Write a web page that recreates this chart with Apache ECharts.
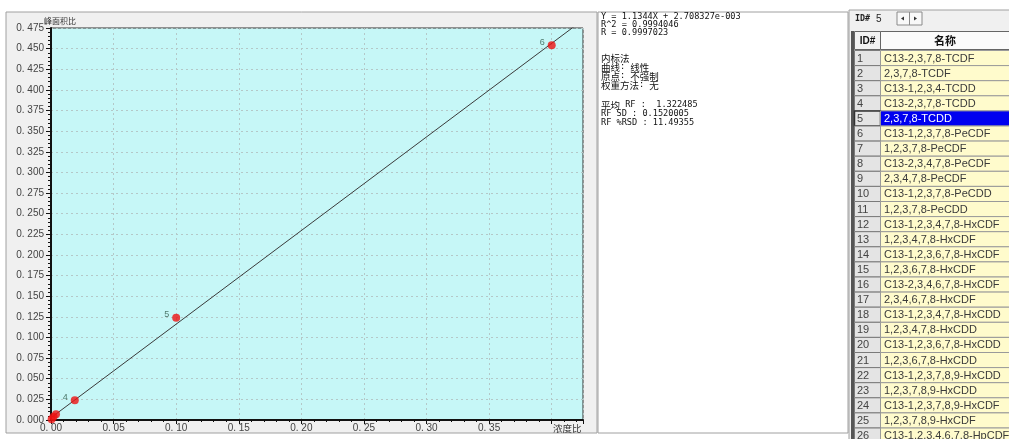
<!DOCTYPE html>
<html>
<head>
<meta charset="utf-8">
<script src="https://cdn.jsdelivr.net/npm/echarts@6/dist/echarts.min.js"></script>
<style>
html,body{margin:0;padding:0;background:#fff;}
#main{width:1009px;height:439px;}
</style>
</head>
<body>
<div id="main"></div>
<script>
// 标准点：浓度比 / 峰面积比
var ptIds = ['1', '2', '3', '4', '5', '6'];
var concRatio = [0.0005, 0.002, 0.004, 0.019, 0.100, 0.400];
var areaRatio = [0.001, 0.004, 0.007, 0.024, 0.124, 0.454];
var ptLabels = ['', '', '', '4', '5', '6'];

// 回归方程 Y = aX + b
var slope = 1.1344;
var intercept = 2.708327e-3;
var xMax = 0.425;
var yMax = 0.475;
var xLabelMax = 0.35;

// 右侧文字 [文字, y]
var statLines = [
  ['Y = 1.1344X + 2.708327e-003', 17],
  ['R^2 = 0.9994046', 25],
  ['R = 0.9997023', 33],
  ['内标法', 58],
  ['曲线: 线性', 67],
  ['原点: 不强制', 76],
  ['权重方法: 无', 85],
  ['平均 RF :  1.322485', 105],
  ['RF SD : 0.1520005', 114],
  ['RF %RSD : 11.49355', 123]
];

// 化合物列表
var compNames = [
  'C13-2,3,7,8-TCDF', '2,3,7,8-TCDF', 'C13-1,2,3,4-TCDD', 'C13-2,3,7,8-TCDD',
  '2,3,7,8-TCDD', 'C13-1,2,3,7,8-PeCDF', '1,2,3,7,8-PeCDF', 'C13-2,3,4,7,8-PeCDF',
  '2,3,4,7,8-PeCDF', 'C13-1,2,3,7,8-PeCDD', '1,2,3,7,8-PeCDD', 'C13-1,2,3,4,7,8-HxCDF',
  '1,2,3,4,7,8-HxCDF', 'C13-1,2,3,6,7,8-HxCDF', '1,2,3,6,7,8-HxCDF', 'C13-2,3,4,6,7,8-HxCDF',
  '2,3,4,6,7,8-HxCDF', 'C13-1,2,3,4,7,8-HxCDD', '1,2,3,4,7,8-HxCDD', 'C13-1,2,3,6,7,8-HxCDD',
  '1,2,3,6,7,8-HxCDD', 'C13-1,2,3,7,8,9-HxCDD', '1,2,3,7,8,9-HxCDD', 'C13-1,2,3,7,8,9-HxCDF',
  '1,2,3,7,8,9-HxCDF', 'C13-1,2,3,4,6,7,8-HpCDF'
];
var curId = 5;

var monoFont = '"DejaVu Sans Mono","Noto Sans CJK SC",monospace';
var tickFont = '"Liberation Sans",Arial,sans-serif';

//拼散点数据
var pts = [];
for (var i = 0; i < ptIds.length; i++) {
  pts.push({value: [concRatio[i], areaRatio[i]], name: ptIds[i]});
}
//回归线两端
var fitLine = [[0, intercept], [xMax, slope * xMax + intercept]];

var g = [];
//左边图框
g.push({type: 'rect', z: -10, shape: {x: 6, y: 12, width: 591, height: 421}, style: {fill: '#f0f0f0', stroke: '#a0a0a0', lineWidth: 1}});
g.push({type: 'text', x: 44, y: 21, style: {text: '峰面积比', font: '8px "Noto Sans CJK SC"', fill: '#333', textVerticalAlign: 'middle'}});
g.push({type: 'text', x: 553, y: 428, style: {text: '浓度比', font: '9.5px "Noto Sans CJK SC"', fill: '#333', textVerticalAlign: 'middle'}});

//中间文字框
g.push({type: 'rect', z: -10, shape: {x: 598, y: 12, width: 250, height: 421}, style: {fill: '#fff', stroke: '#a0a0a0', lineWidth: 1}});
statLines.forEach(function (s) {
  // 中文字稍大一点
  var txt = s[0].replace(/([\u4e00-\u9fff]+)/g, '{c|$1}');
  g.push({type: 'text', x: 601, y: s[1],
    style: {
      text: txt, font: '8.6px ' + monoFont, fill: '#111', textVerticalAlign: 'middle',
      rich: {c: {fontSize: 9.5, fontFamily: '"Noto Sans CJK SC"', fill: '#111'}}
    }});
});

//右边表格
g.push({type: 'rect', z: -10, shape: {x: 849, y: 10, width: 162, height: 432}, style: {fill: '#f0f0f0', stroke: '#a0a0a0', lineWidth: 1}});
g.push({type: 'text', x: 855, y: 19, style: {text: 'ID#', font: 'bold 8.4px ' + monoFont, fill: '#222', textVerticalAlign: 'middle'}});
g.push({type: 'text', x: 876, y: 19, style: {text: String(curId), font: '10px ' + tickFont, fill: '#222', textVerticalAlign: 'middle'}});
g.push({type: 'rect', shape: {x: 897, y: 12, width: 25, height: 13}, style: {fill: '#f8f8f8', stroke: '#8a8a8a', lineWidth: 1}});
g.push({type: 'line', shape: {x1: 909.5, y1: 12, x2: 909.5, y2: 25}, style: {stroke: '#8a8a8a'}});
g.push({type: 'polygon', shape: {points: [[901, 18.5], [904, 16.5], [904, 20.5]]}, style: {fill: '#333'}});
g.push({type: 'polygon', shape: {points: [[917, 18.5], [914, 16.5], [914, 20.5]]}, style: {fill: '#333'}});

g.push({type: 'rect', shape: {x: 851, y: 31, width: 3, height: 410}, style: {fill: '#555'}});
g.push({type: 'rect', shape: {x: 854.5, y: 31.5, width: 26, height: 18}, style: {fill: '#f2f2f2', stroke: '#666'}});
g.push({type: 'rect', shape: {x: 880.5, y: 31.5, width: 130, height: 18}, style: {fill: '#fbfbfb', stroke: '#666'}});
g.push({type: 'text', x: 867.5, y: 41, style: {text: 'ID#', font: 'bold 10px ' + tickFont, fill: '#111', textAlign: 'center', textVerticalAlign: 'middle'}});
g.push({type: 'text', x: 945, y: 41, style: {text: '名称', font: 'bold 11px "Noto Sans CJK SC"', fill: '#111', textAlign: 'center', textVerticalAlign: 'middle'}});

var rowH = 15.1, rowTop = 50;
compNames.forEach(function (nm, k) {
  var y0 = rowTop + k * rowH;
  var sel = (k + 1) === curId;
  g.push({type: 'rect', shape: {x: 854.5, y: y0 + 0.5, width: 26, height: rowH}, style: {fill: '#e4e4e4', stroke: sel ? '#333' : '#7a7a7a', lineWidth: sel ? 1.5 : 1}});
  g.push({type: 'text', x: 857, y: y0 + rowH / 2 + 1, style: {text: String(k + 1), font: '11px ' + tickFont, fill: '#444', textVerticalAlign: 'middle'}});
  g.push({type: 'rect', shape: {x: 880.5, y: y0 + 0.5, width: 130, height: rowH}, style: {fill: sel ? '#0000f0' : '#fffbcc', stroke: '#9a9a9a'}});
  g.push({type: 'text', x: 884, y: y0 + rowH / 2 + 1, style: {text: nm, font: '11px ' + tickFont, fill: sel ? '#fff' : '#3a3a3a', textVerticalAlign: 'middle'}});
});

var chart = echarts.init(document.getElementById('main'));
chart.setOption({
  animation: false,
  backgroundColor: '#fff',
  grid: {
    left: 51, right: 426, top: 28, bottom: 19,
    show: true, backgroundColor: '#c6f7f7', borderColor: '#333', borderWidth: 1,
    outerBoundsMode: 'none'
  },
  xAxis: {
    type: 'value', min: 0, max: xMax, interval: 0.05,
    axisLine: {show: true, onZero: false, lineStyle: {color: '#111', width: 2}},
    axisTick: {show: true, length: 4, lineStyle: {color: '#111'}},
    minorTick: {show: true, splitNumber: 5, length: 2, lineStyle: {color: '#111'}},
    splitLine: {show: true, lineStyle: {color: '#b4c8c8', type: [2, 3], width: 1}},
    axisLabel: {
      margin: 3, color: '#444', fontSize: 10, fontFamily: tickFont,
      formatter: function (v) { return v > xLabelMax + 1e-9 ? '' : v.toFixed(2).replace('.', '. '); }
    }
  },
  yAxis: {
    type: 'value', min: 0, max: yMax, interval: 0.025,
    axisLine: {show: true, onZero: false, lineStyle: {color: '#111', width: 2}},
    axisTick: {show: true, length: 5, lineStyle: {color: '#111'}},
    minorTick: {show: true, splitNumber: 5, length: 3, lineStyle: {color: '#111'}},
    splitLine: {show: true, lineStyle: {color: '#b4c8c8', type: [2, 3], width: 1}},
    axisLabel: {
      margin: 7, color: '#444', fontSize: 10, fontFamily: tickFont,
      formatter: function (v) { return v.toFixed(3).replace('.', '. '); }
    }
  },
  graphic: g,
  series: [
    {
      type: 'line', data: fitLine, symbol: 'none', clip: true,
      lineStyle: {color: '#3a3a3a', width: 1}, z: 2
    },
    {
      type: 'scatter', data: pts, symbolSize: 8, z: 3,
      itemStyle: {color: '#ee1111'},
      label: {
        show: true, position: 'left', distance: 3, offset: [0, -3],
        color: '#2f5a4a', fontSize: 9, fontFamily: tickFont,
        formatter: function (p) { return ptLabels[p.dataIndex]; }
      }
    }
  ]
});
</script>
</body>
</html>
